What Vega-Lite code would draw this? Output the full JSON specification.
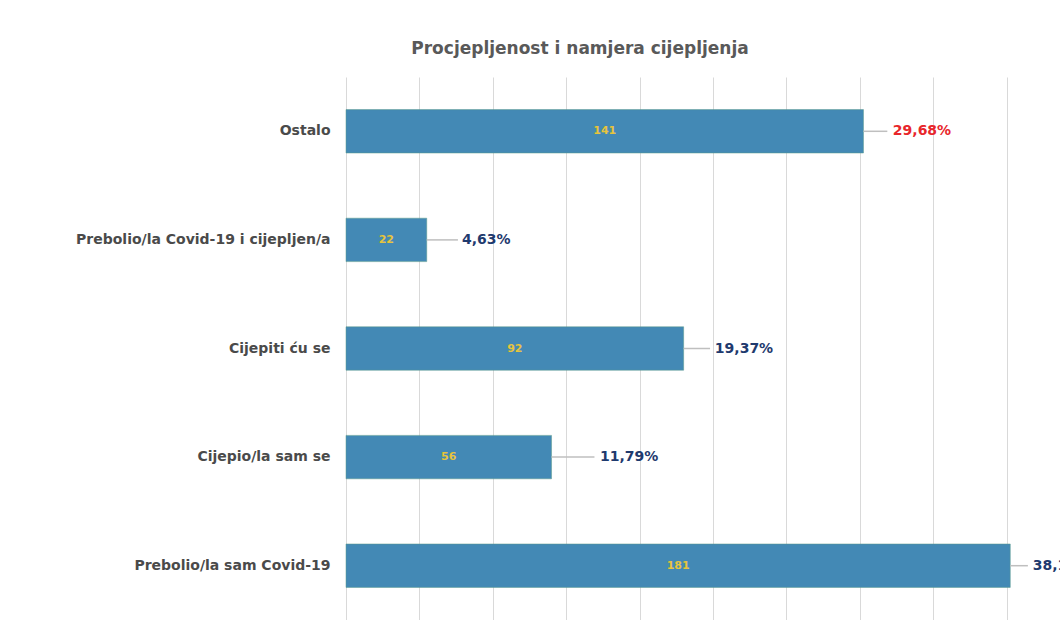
{
  "$schema": "https://vega.github.io/schema/vega-lite/v6.json",
  "autosize": {"type": "none"},
  "width": 734,
  "height": 543,
  "padding": {"left": 346, "top": 77, "right": 0, "bottom": 0},
  "background": "white",
  "title": {
    "text": "Procjepljenost i namjera cijepljenja",
    "frame": "group",
    "anchor": "middle",
    "dx": -133,
    "baseline": "bottom",
    "offset": 20,
    "dy": 18,
    "font": "DejaVu Sans",
    "fontSize": 17,
    "fontWeight": "bold",
    "color": "#595959"
  },
  "config": {
    "view": {"stroke": null},
    "font": "DejaVu Sans"
  },
  "data": {
    "values": [
      {"kategorija": "Ostalo", "broj": 141, "postotak": "29,68%", "lineEnd": 147.5, "labelPos": 149.0, "boja": "red"},
      {"kategorija": "Prebolio/la Covid-19 i cijepljen/a", "broj": 22, "postotak": "4,63%", "lineEnd": 30.5, "labelPos": 31.6, "boja": "navy"},
      {"kategorija": "Cijepiti ću se", "broj": 92, "postotak": "19,37%", "lineEnd": 99.2, "labelPos": 100.5, "boja": "navy"},
      {"kategorija": "Cijepio/la sam se", "broj": 56, "postotak": "11,79%", "lineEnd": 67.7, "labelPos": 69.2, "boja": "navy"},
      {"kategorija": "Prebolio/la sam Covid-19", "broj": 181, "postotak": "38,11%", "lineEnd": 185.8, "labelPos": 187.1, "boja": "navy"}
    ]
  },
  "encoding": {
    "y": {
      "field": "kategorija",
      "type": "nominal",
      "sort": null,
      "scale": {"paddingInner": 0.6, "paddingOuter": 0.3},
      "axis": {
        "title": null,
        "domain": false,
        "ticks": false,
        "labelPadding": 16,
        "labelFontSize": 14,
        "labelFontWeight": "bold",
        "labelColor": "#4a4a4a",
        "labelFont": "DejaVu Sans",
        "labelLimit": 320
      }
    }
  },
  "layer": [
    {
      "mark": {"type": "bar", "color": "#4389b5", "stroke": "#5a9a8a", "strokeWidth": 0.5},
      "encoding": {
        "x": {
          "field": "broj",
          "type": "quantitative",
          "scale": {"domain": [0, 200], "nice": false},
          "axis": {
            "title": null,
            "values": [0, 20, 40, 60, 80, 100, 120, 140, 160, 180, 200],
            "grid": true,
            "gridColor": "#d9d9d9",
            "gridWidth": 1,
            "domain": false,
            "ticks": false,
            "labelFontSize": 10,
            "labelColor": "#7f7f7f",
            "labelPadding": 6
          }
        }
      }
    },
    {
      "mark": {"type": "rule", "color": "#bfbfbf", "strokeWidth": 1.5},
      "encoding": {
        "x": {"field": "broj", "type": "quantitative"},
        "x2": {"field": "lineEnd"}
      }
    },
    {
      "transform": [{"calculate": "datum.broj / 2", "as": "sredina"}],
      "mark": {"type": "text", "color": "#e6c43c", "fontSize": 11, "fontWeight": "bold"},
      "encoding": {
        "x": {"field": "sredina", "type": "quantitative"},
        "text": {"field": "broj", "type": "quantitative"}
      }
    },
    {
      "mark": {"type": "text", "align": "left", "fontSize": 14, "fontWeight": "bold"},
      "encoding": {
        "x": {"field": "labelPos", "type": "quantitative"},
        "text": {"field": "postotak"},
        "color": {
          "field": "boja",
          "type": "nominal",
          "scale": {"domain": ["red", "navy"], "range": ["#e8262b", "#1f3a6e"]},
          "legend": null
        }
      }
    }
  ]
}
